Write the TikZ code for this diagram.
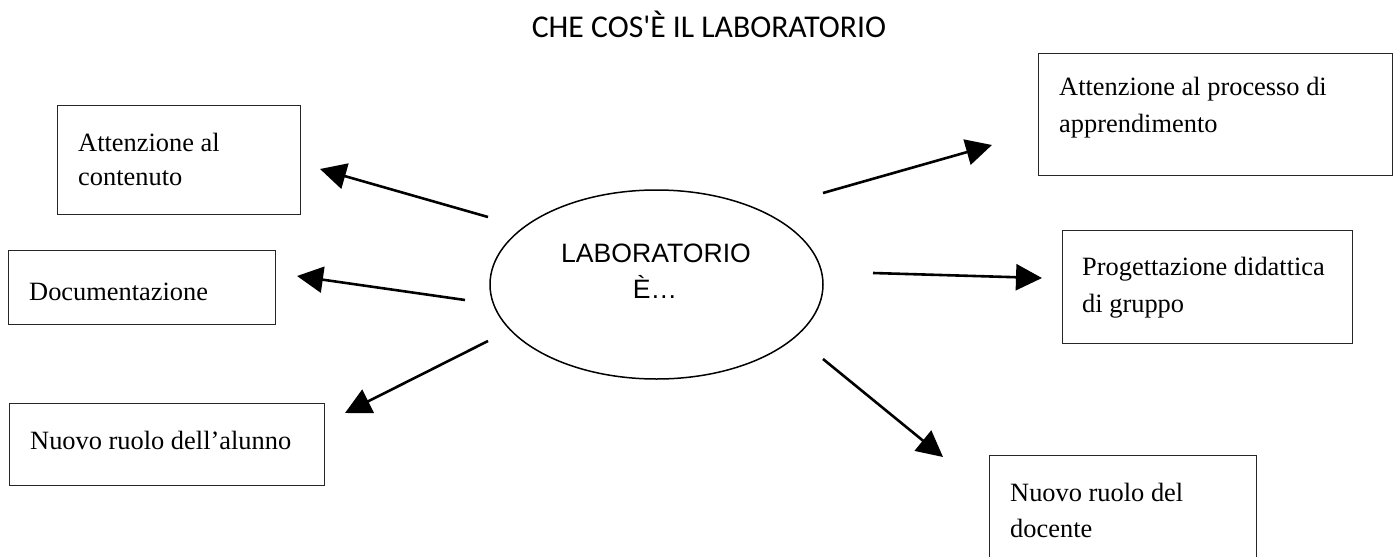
\documentclass[tikz,border=0pt]{standalone}
\usepackage{fontspec}
\setmainfont{Liberation Serif}
\newfontfamily\arialf{Liberation Sans}
\newfontfamily\calibf[Ligatures=TeXOff]{Carlito}
\usetikzlibrary{arrows.meta,shapes.geometric}
\begin{document}
\begin{tikzpicture}[x=1pt,y=-1pt,
  box/.style={draw=black!85, line width=1.1pt, rectangle, inner sep=0pt, anchor=north west},
  lbl/.style={anchor=base west, inner sep=0pt, font=\fontsize{26.4}{36}\selectfont},
  arr/.style={line width=2.6pt, -{Triangle[length=26pt,width=26pt]}},
]
\clip (0,0) rectangle (1393,557);
\fill[white] (0,0) rectangle (1393,557);

% title
\node[anchor=base, inner sep=0pt, font=\calibf\fontsize{31.7}{38}\selectfont] (T) at (709,37) {CHE COS'È IL LABORATORIO};

% central ellipse
\node[draw, ellipse, line width=1.5pt, minimum width=333pt, minimum height=189pt, inner sep=0pt] (E) at (656.5,284.5) {};
\node[anchor=base, inner sep=0pt, font=\arialf\fontsize{26.6}{32}\selectfont] (E1) at (656,262) {LABORATORIO};
\node[anchor=base, inner sep=0pt, font=\arialf\fontsize{26.6}{32}\selectfont] (E2) at (655,298) {È…};

% left boxes
\node[box, minimum width=243pt, minimum height=109pt] (A) at (57,105) {};
\node[lbl] (A1) at (78,151) {Attenzione al};
\node[lbl] (A2) at (78,185) {contenuto};

\node[box, minimum width=267pt, minimum height=74pt] (D) at (8,250) {};
\node[lbl] (D1) at (29,300) {Documentazione};

\node[box, minimum width=315pt, minimum height=82pt] (N) at (9,403) {};
\node[lbl] (N1) at (30,449) {Nuovo ruolo dell’alunno};

% right boxes
\node[box, minimum width=354pt, minimum height=122pt] (P) at (1038,53) {};
\node[lbl] (P1) at (1059,95) {Attenzione al processo di};
\node[lbl] (P2) at (1059,132) {apprendimento};

\node[box, minimum width=290pt, minimum height=113pt] (G) at (1062,230) {};
\node[lbl] (G1) at (1082,275) {Progettazione didattica};
\node[lbl] (G2) at (1082,312) {di gruppo};

\node[box, minimum width=267pt, minimum height=150pt] (R) at (989,455) {};
\node[lbl] (R1) at (1010,501) {Nuovo ruolo del};
\node[lbl] (R2) at (1010,537) {docente};

% arrow end points
\coordinate (s1) at (488,217); \coordinate (t1) at (320,169);
\coordinate (s2) at (465,300); \coordinate (t2) at (297,276);
\coordinate (s3) at (488,341); \coordinate (t3) at (345,413);
\coordinate (s4) at (823,193); \coordinate (t4) at (992,145);
\coordinate (s5) at (873,273); \coordinate (t5) at (1042,278);
\coordinate (s6) at (823,359); \coordinate (t6) at (943,457);

\draw[arr] (s1) -- (t1);
\draw[arr] (s2) -- (t2);
\draw[arr] (s3) -- (t3);
\draw[arr] (s4) -- (t4);
\draw[arr] (s5) -- (t5);
\draw[arr] (s6) -- (t6);
\end{tikzpicture}
\end{document}
